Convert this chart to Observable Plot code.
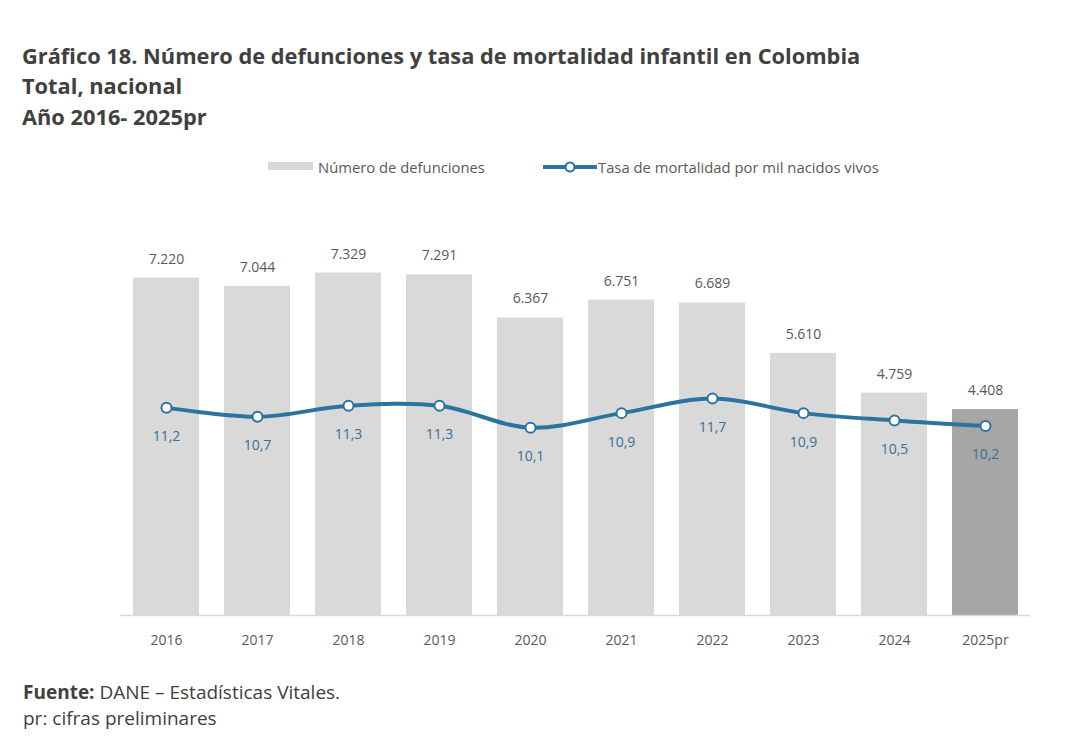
<!DOCTYPE html>
<html>
<head>
<meta charset="utf-8">
<script src="https://cdn.jsdelivr.net/npm/d3@7"></script>
<script src="https://cdn.jsdelivr.net/npm/@observablehq/plot@0.6"></script>
<style>
  html, body { margin: 0; padding: 0; background: #ffffff; overflow: hidden; }
  #page { position: relative; width: 1080px; height: 756px; font-family: "Open Sans", "DejaVu Sans", sans-serif; }
  .abs { position: absolute; white-space: nowrap; }
  .title { left: 22px; font-size: 21.8px; font-weight: 700; color: #404040; line-height: 30px; }
  .leg { font-size: 14.8px; color: #595959; line-height: 20px; }
  .foot { left: 23px; font-size: 19px; color: #404040; line-height: 26px; }
</style>
</head>
<body>
<div id="page">
  <div class="abs title" style="top:41px">Gráfico 18. Número de defunciones y tasa de mortalidad infantil en Colombia</div>
  <div class="abs title" style="top:71px">Total, nacional</div>
  <div class="abs title" style="top:102px">Año 2016- 2025pr</div>

  <div class="abs" style="left:268px; top:162px; width:45px; height:8px; background:#d9d9d9"></div>
  <div class="abs leg" style="left:318px; top:157px">Número de defunciones</div>
  <svg class="abs" style="left:543px; top:159px" width="54" height="16">
    <line x1="0" y1="8" x2="54" y2="8" stroke="#2b74a0" stroke-width="4"></line>
    <circle cx="27" cy="8" r="4.5" fill="#ffffff" stroke="#2b74a0" stroke-width="2"></circle>
  </svg>
  <div class="abs leg" style="left:598px; top:157px">Tasa de mortalidad por mil nacidos vivos</div>

  <div id="bars" class="abs" style="left:0; top:0"></div>
  <div id="line" class="abs" style="left:0; top:0"></div>

  <div class="abs foot" style="top:679px"><b>Fuente:</b> DANE – Estadísticas Vitales.</div>
  <div class="abs foot" style="top:705px">pr: cifras preliminares</div>
</div>
<script>
// ---- data ----
const years = ["2016", "2017", "2018", "2019", "2020", "2021", "2022", "2023", "2024", "2025pr"];
const deaths = [7220, 7044, 7329, 7291, 6367, 6751, 6689, 5610, 4759, 4408];
const rates = [11.2, 10.7, 11.3, 11.3, 10.1, 10.9, 11.7, 10.9, 10.5, 10.2];
const preliminary = [false, false, false, false, false, false, false, false, false, true];

const data = years.map((year, i) => ({year, deaths: deaths[i], rate: rates[i], prelim: preliminary[i]}));

const loc = d3.formatLocale({decimal: ",", thousands: ".", grouping: [3], currency: ["$", ""]});
const fmtInt = loc.format(",d");
const fmtDec = loc.format(".1f");

const W = 1080, H = 680;
const xOpts = {domain: years, paddingInner: 0.28, paddingOuter: 0.14, label: null};
const blue = "#2b74a0";

const bars = Plot.plot({
  width: W, height: H,
  marginLeft: 120, marginRight: 50, marginTop: 241.2, marginBottom: 65,
  style: {fontFamily: "Open Sans, DejaVu Sans, sans-serif", fontSize: "14px", color: "#595959", background: "transparent"},
  x: xOpts,
  y: {domain: [0, 8000], axis: null},
  color: {type: "identity"},
  marks: [
    Plot.barY(data, {x: "year", y: "deaths", fill: d => d.prelim ? "#a6a6a6" : "#d9d9d9"}),
    Plot.ruleY([0], {stroke: "#d9d9d9", strokeWidth: 1.5}),
    Plot.text(data, {x: "year", y: "deaths", text: d => fmtInt(d.deaths), dy: -19, fill: "#595959", fontSize: 14}),
    Plot.axisX({tickSize: 0, tickPadding: 20, fontSize: 14, color: "#595959", label: null})
  ]
});
document.getElementById("bars").appendChild(bars);

const line = Plot.plot({
  width: W, height: H,
  marginLeft: 120, marginRight: 50, marginTop: 392.5, marginBottom: H - 429.1,
  style: {fontFamily: "Open Sans, DejaVu Sans, sans-serif", fontSize: "14px", background: "transparent", overflow: "visible"},
  x: {...xOpts, axis: null},
  y: {domain: [10, 12], axis: null},
  marks: [
    Plot.lineY(data, {x: "year", y: "rate", stroke: blue, strokeWidth: 4, curve: "catmull-rom"}),
    Plot.dot(data, {x: "year", y: "rate", r: 5, fill: "#ffffff", stroke: blue, strokeWidth: 2}),
    Plot.text(data, {x: "year", y: "rate", text: d => fmtDec(d.rate), dy: 29, fill: "#3a6f93", fontSize: 14})
  ]
});
document.getElementById("line").appendChild(line);
</script>
</body>
</html>
